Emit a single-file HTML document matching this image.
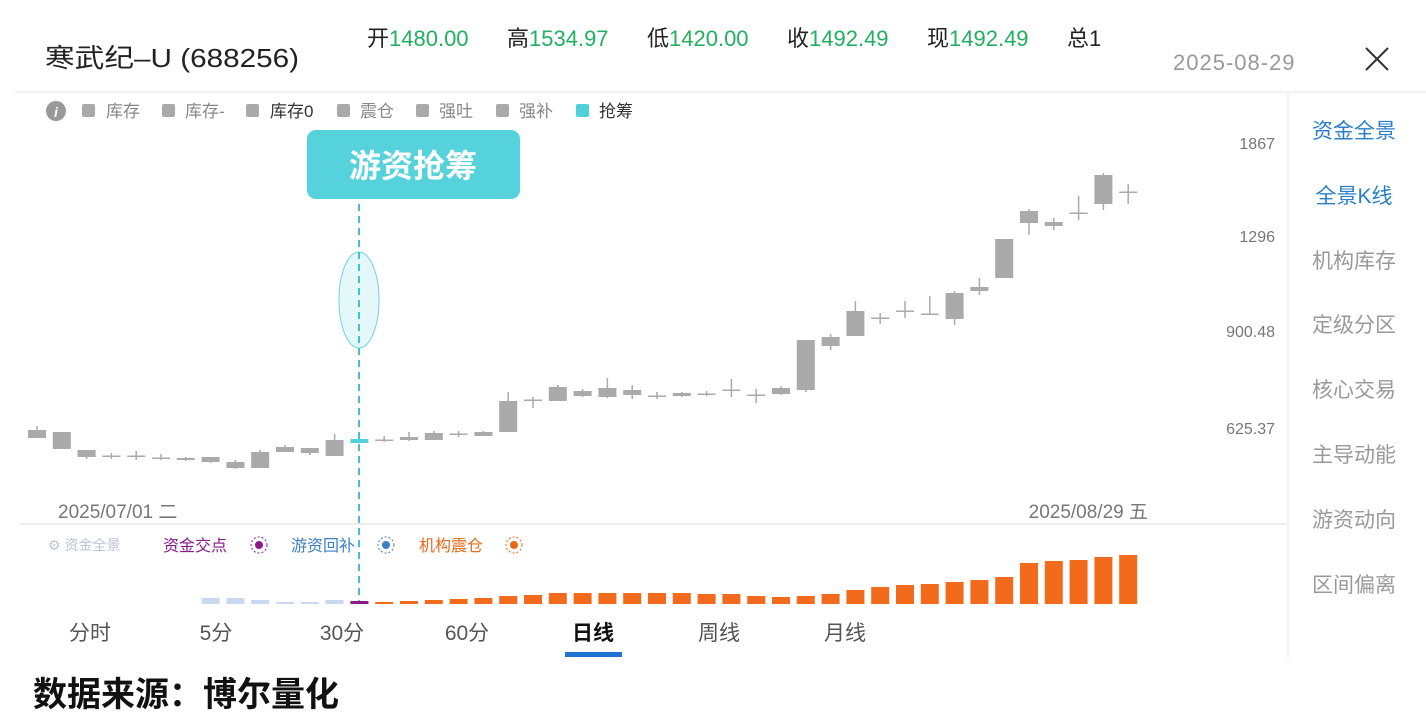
<!DOCTYPE html>
<html><head><meta charset="utf-8"><style>
html,body{margin:0;padding:0;background:#fff;width:1426px;height:728px;overflow:hidden}
svg{display:block}
text{font-family:"Liberation Sans","Noto Sans CJK SC",sans-serif}
</style></head><body>
<svg id="s" width="1426" height="728" viewBox="0 0 1426 728" xmlns="http://www.w3.org/2000/svg">
<rect width="1426" height="728" fill="#fff"/>
<text x="45" y="67" font-size="26" fill="#222" textLength="254" lengthAdjust="spacingAndGlyphs">寒武纪–U (688256)</text>
<g font-size="22" fill="#222">
<text x="367" y="46">开<tspan fill="#20b060">1480.00</tspan></text>
<text x="507" y="46">高<tspan fill="#20b060">1534.97</tspan></text>
<text x="647" y="46">低<tspan fill="#20b060">1420.00</tspan></text>
<text x="787" y="46">收<tspan fill="#20b060">1492.49</tspan></text>
<text x="927" y="46">现<tspan fill="#20b060">1492.49</tspan></text>
<text x="1067" y="46">总1</text>
</g>
<text x="1173" y="70" font-size="22" fill="#999" letter-spacing="1">2025-08-29</text>
<path d="M1366 48 L1388 70 M1388 48 L1366 70" stroke="#333" stroke-width="2"/>
<line x1="15" y1="92" x2="1426" y2="92" stroke="#eee" stroke-width="1.5"/>
<line x1="1288" y1="92" x2="1288" y2="658" stroke="#eee" stroke-width="1.5"/>
<circle cx="56" cy="111" r="10" fill="#999"/><text x="56" y="117" font-size="14" fill="#fff" text-anchor="middle" font-style="italic" font-weight="bold">i</text>
<g font-size="17" fill="#888">
<rect x="82" y="104" width="13" height="13" rx="2" fill="#aaa"/><text x="106" y="117">库存</text>
<rect x="162" y="104" width="13" height="13" rx="2" fill="#aaa"/><text x="185" y="117">库存-</text>
<rect x="246" y="104" width="13" height="13" rx="2" fill="#aaa"/><text x="270" y="117" fill="#333">库存0</text>
<rect x="337" y="104" width="13" height="13" rx="2" fill="#aaa"/><text x="360" y="117">震仓</text>
<rect x="416" y="104" width="13" height="13" rx="2" fill="#aaa"/><text x="439" y="117">强吐</text>
<rect x="496" y="104" width="13" height="13" rx="2" fill="#aaa"/><text x="519" y="117">强补</text>
<rect x="576" y="104" width="13" height="13" rx="2" fill="#4fd0da"/><text x="599" y="117" fill="#333">抢筹</text>
</g>
<g font-size="16" fill="#777" text-anchor="end">
<text x="1275" y="149">1867</text><text x="1275" y="242">1296</text><text x="1275" y="337">900.48</text><text x="1275" y="434">625.37</text>
</g>
<g font-size="21" text-anchor="middle">
<text x="1354" y="138" fill="#2a7fc8">资金全景</text>
<text x="1354" y="203" fill="#2a7fc8">全景K线</text>
<g fill="#999">
<text x="1354" y="268">机构库存</text><text x="1354" y="332">定级分区</text><text x="1354" y="397">核心交易</text><text x="1354" y="462">主导动能</text><text x="1354" y="527">游资动向</text><text x="1354" y="592">区间偏离</text>
</g></g>
<rect x="307" y="130" width="213" height="69" rx="9" fill="#55d2dc"/>
<text x="413" y="177" font-size="32" font-weight="bold" fill="#fff" text-anchor="middle">游资抢筹</text>
<ellipse cx="359" cy="300" rx="20" ry="48" fill="#e4f8fa" stroke="#6fd6de" stroke-width="1"/>
<line x1="359" y1="204" x2="359" y2="603" stroke="#3cc5d0" stroke-width="2" stroke-dasharray="7,5"/>
<g id="c"></g>
<text x="58" y="518" font-size="19" fill="#777">2025/07/01 二</text>
<text x="1148" y="518" font-size="19" fill="#777" text-anchor="end">2025/08/29 五</text>
<line x1="20" y1="524" x2="1286" y2="524" stroke="#e6e6e6" stroke-width="1.5"/>
<g font-size="16">
<text x="48" y="550" fill="#bcc4d4" font-size="14">⚙ 资金全景</text>
<text x="163" y="551" fill="#8a1a8a">资金交点</text><circle cx="259" cy="545" r="8" fill="none" stroke="#8a1a8a" stroke-dasharray="2,2"/><circle cx="259" cy="545" r="4" fill="#8a1a8a"/>
<text x="291" y="551" fill="#3d7fc2">游资回补</text><circle cx="386" cy="545" r="8" fill="none" stroke="#3d7fc2" stroke-dasharray="2,2"/><circle cx="386" cy="545" r="4" fill="#3d7fc2"/>
<text x="419" y="551" fill="#e8681a">机构震仓</text><circle cx="514" cy="545" r="8" fill="none" stroke="#e8681a" stroke-dasharray="2,2"/><circle cx="514" cy="545" r="4" fill="#e8681a"/>
</g>
<g font-size="21" fill="#555" text-anchor="middle">
<text x="90" y="640">分时</text><text x="216" y="640">5分</text><text x="342" y="640">30分</text><text x="467" y="640">60分</text>
<text x="593" y="640" fill="#111" font-weight="bold">日线</text><text x="719" y="640">周线</text><text x="845" y="640">月线</text>
</g>
<rect x="565" y="652" width="57" height="5" fill="#1e74d0"/>
<text x="33" y="706" font-size="34" font-weight="bold" fill="#111">数据来源：博尔量化</text>
</svg>
<script>
(function(){
var d=[[430,438,426,438],[432,449,432,449],[450,457,450,459],[455.5,456.5,453,459],[455.5,456.5,451,460],[457.5,458.5,454,460],[458,460,457,461],[457,462,457,463],[462,468,460,469],[452,468,450,468],[447,452,445,452],[448,453,448,455],[440,456,434,456],[439,443,439,443],[439.5,440.5,436,442],[437,440,432,441],[433,440,431,440],[433.5,435,431,437],[432,436,431,436],[401,432,392,432],[399.5,400.5,397,408],[387,401,385,401],[391,396,389,397],[388,397,378,398],[390,395,385,399],[395.5,396.5,392,399],[393,396,392,397],[393.5,394.5,391,396],[389.5,390.5,379,397],[394.5,395.5,389,403],[388,394,386,395],[340,390,340,392],[337,346,334,350],[311,336,301,336],[317.5,318.5,313,324],[310.5,311.5,301,318],[313.5,314.5,296,315],[293,319,291,325],[287,291,278,295],[239,278,239,278],[211,223,209,235],[222,226,218,230],[212.5,213.5,196,220],[175,204,173,210],[191.5,192.5,184,204]];
var bars=[0,0,0,0,0,0,0,598,598,600,602,602,600,601,602,601,600,599,598,596,595,593,593,593,593,593,593,594,594,596,597,596,594,590,587,585,584,582,580,577,563,561,560,557,555];
var h='';
for(var i=0;i<45;i++){var x=37+i*24.8,c=d[i];var col=i==13?'#4fd0da':'#aaa';
h+='<line x1="'+x+'" y1="'+c[2]+'" x2="'+x+'" y2="'+c[3]+'" stroke="'+col+'" stroke-width="1.5"/>';
h+='<rect x="'+(x-9)+'" y="'+c[0]+'" width="18" height="'+Math.max(c[1]-c[0],1.5)+'" fill="'+col+'"/>';
if(bars[i]){var bc=i<13?'#c8d8f0':(i==13?'#8a1a8a':'#f26a1b');var ty=bars[i];
h+='<rect x="'+(x-9)+'" y="'+ty+'" width="18" height="'+(604-ty)+'" fill="'+bc+'"/>';}}
document.getElementById('c').innerHTML=h;
})();
</script>
</body></html>
